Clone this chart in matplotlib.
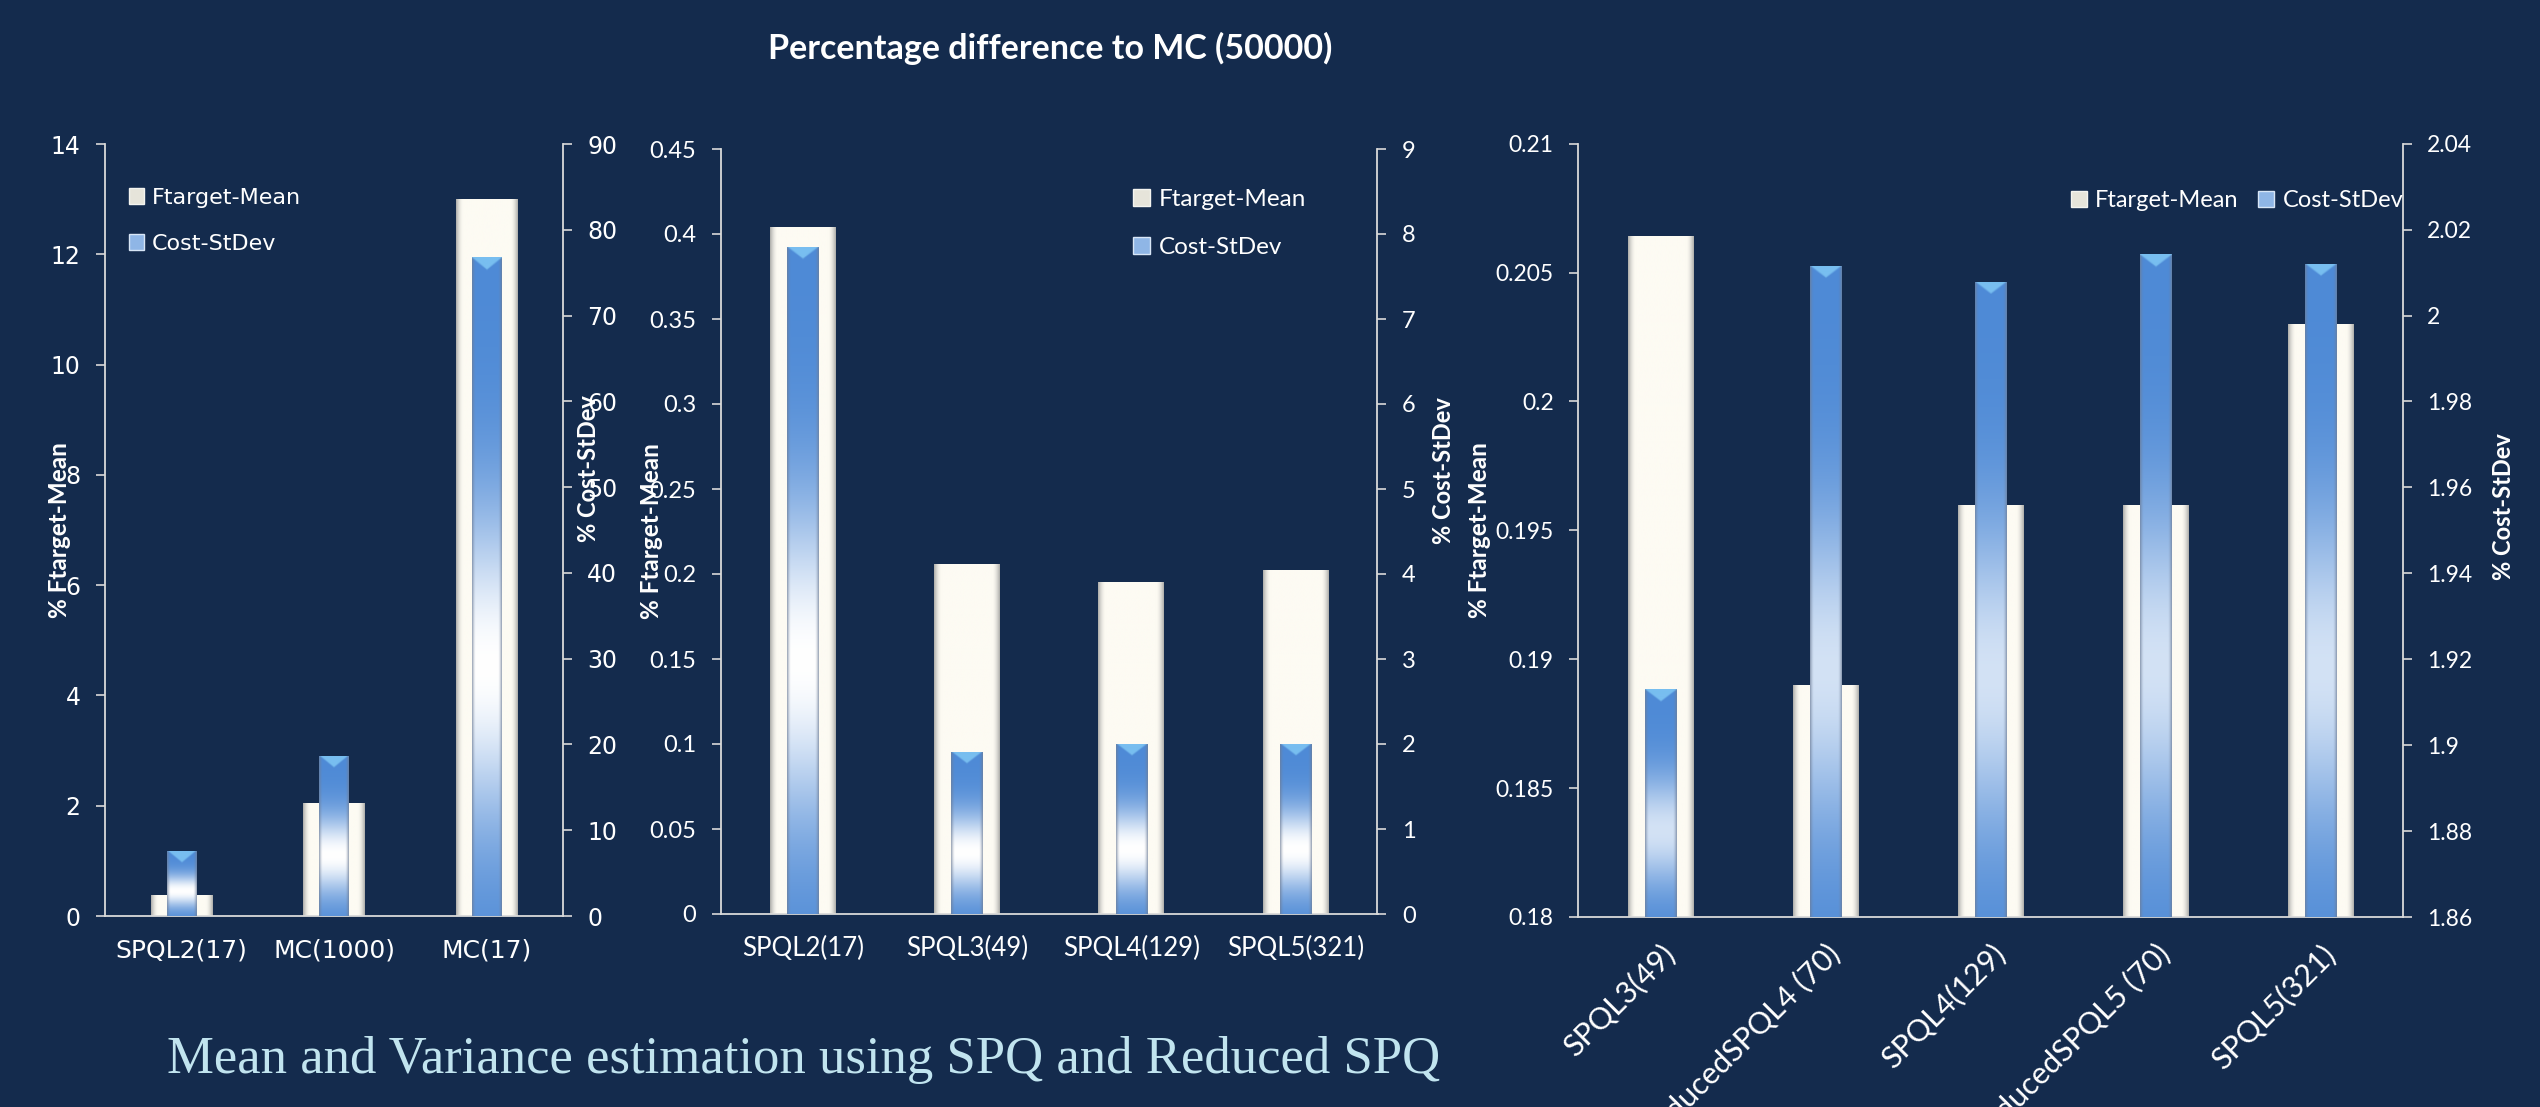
import numpy as np
import matplotlib
matplotlib.use("Agg")
import matplotlib.pyplot as plt
from matplotlib.patches import Patch

# ---------------- data ----------------
p1_categories = ["SPQL2(17)", "MC(1000)", "MC(17)"]
p1_mean = [0.38, 2.05, 13.0]
p1_std = [7.6, 18.7, 76.8]
p1_left_ticks = [0, 2, 4, 6, 8, 10, 12, 14]
p1_right_ticks = [0, 10, 20, 30, 40, 50, 60, 70, 80, 90]

p2_categories = ["SPQL2(17)", "SPQL3(49)", "SPQL4(129)", "SPQL5(321)"]
p2_mean = [0.404, 0.206, 0.1955, 0.2025]
p2_std = [7.85, 1.91, 2.0, 2.005]
p2_left_ticks = [0, 0.05, 0.1, 0.15, 0.2, 0.25, 0.3, 0.35, 0.4, 0.45]
p2_right_ticks = [0, 1, 2, 3, 4, 5, 6, 7, 8, 9]

p3_categories = ["SPQL3(49)", "ReducedSPQL4 (70)", "SPQL4(129)", "ReducedSPQL5 (70)", "SPQL5(321)"]
p3_mean = [0.2064, 0.189, 0.196, 0.196, 0.203]
p3_std = [1.913, 2.0116, 2.0079, 2.0143, 2.012]
p3_left_ticks = [0.18, 0.185, 0.19, 0.195, 0.2, 0.205, 0.21]
p3_right_ticks = [1.86, 1.88, 1.9, 1.92, 1.94, 1.96, 1.98, 2.0, 2.02, 2.04]

series_names = ["Ftarget-Mean", "Cost-StDev"]
left_label = "% Ftarget-Mean"
right_label = "% Cost-StDev"
title = "Percentage difference to MC (50000)"
subtitle = "Mean and Variance estimation using SPQ and Reduced SPQ"

# ---------------- style ----------------
BG = "#142b4d"
SPINE = "#d9d9d9"
CREAM = np.array([253, 251, 243]) / 255
GREY = np.array([175, 175, 172]) / 255
BLUE = np.array([78, 138, 214]) / 255
EDGEGREY = np.array([110, 125, 150]) / 255
CAP = np.array([120, 190, 240]) / 255
CAL = "Lato"

W, H = 2540, 1107
fig = plt.figure(figsize=(W / 100, H / 100), dpi=100, facecolor=BG)


def fmt(v):
    return f"{round(v, 6):g}"


def visible_range(ax, patch):
    lo, hi = ax.get_ylim()
    y0 = patch.get_y()
    y1 = y0 + patch.get_height()
    return max(y0, lo), min(y1, hi)


def shade_white(ax, patch):
    x0, w = patch.get_x(), patch.get_width()
    y0, y1 = visible_range(ax, patch)
    u = np.linspace(0, 1, 96)
    d = np.minimum(u, 1 - u)
    e = np.clip(1 - d / 0.12, 0, 1) ** 2.0
    row = CREAM[None, :] * (1 - e[:, None]) + GREY[None, :] * e[:, None]
    img = np.tile(row[None, :, :], (2, 1, 1))
    im = ax.imshow(img, extent=[x0, x0 + w, y0, y1], aspect="auto", origin="lower",
                   zorder=patch.get_zorder() + 0.1, interpolation="bilinear")
    im.set_clip_path(patch)


def shade_blue(ax, patch, amp, tc=0.38, s=0.24):
    x0, w = patch.get_x(), patch.get_width()
    y0, y1 = visible_range(ax, patch)
    pix = abs(ax.transData.transform((0, y1))[1] - ax.transData.transform((0, y0))[1])
    ny, nx = 600, 64
    t = np.linspace(0, 1, ny)
    wv = amp * np.exp(-((t - tc) / s) ** 2)
    col = BLUE[None, :] * (1 - wv[:, None]) + wv[:, None] * np.ones(3)[None, :]
    u = np.linspace(0, 1, nx)
    d = np.minimum(u, 1 - u)
    e = np.clip(1 - d / 0.12, 0, 1) ** 1.6 * 0.7
    img = col[:, None, :] * (1 - e[None, :, None]) + EDGEGREY[None, None, :] * e[None, :, None]
    # chevron bevel at the top
    depth = (1 - t)[:, None] * pix
    vshape = 12.0 * (1 - 2 * np.abs(u - 0.5))[None, :]
    cap = np.clip((vshape - depth) / 2.0 + 0.5, 0, 1) * (depth < 13)
    img = img * (1 - cap[:, :, None]) + CAP[None, None, :] * cap[:, :, None]
    im = ax.imshow(img, extent=[x0, x0 + w, y0, y1], aspect="auto", origin="lower",
                   zorder=patch.get_zorder() + 0.1, interpolation="bilinear")
    im.set_clip_path(patch)


def panel(rect, cats, mean, std, lticks, rticks, tickfont, yticksize, xticksize, amp,
          llab_x, rlab_xy, leg_kw, rotate=False):
    ax = fig.add_axes(rect)
    ax.set_facecolor("none")
    ax2 = ax.twinx()
    n = len(cats)
    x = np.arange(n)
    ax.set_xlim(-0.5, n - 0.5)
    ax.set_ylim(lticks[0], lticks[-1])
    ax2.set_ylim(rticks[0], rticks[-1])

    wb = ax.bar(x, mean, width=0.40, color=CREAM, zorder=2, linewidth=0)
    bb = ax2.bar(x, std, width=0.19, color=BLUE, zorder=2, linewidth=0)
    for p in wb:
        shade_white(ax, p)
    for p in bb:
        shade_blue(ax2, p, amp)
    ax.set_xlim(-0.5, n - 0.5)
    ax2.set_xlim(-0.5, n - 0.5)
    ax.set_ylim(lticks[0], lticks[-1])
    ax2.set_ylim(rticks[0], rticks[-1])

    for s in ["top", "right"]:
        ax.spines[s].set_visible(False)
    for s in ["top", "left", "bottom"]:
        ax2.spines[s].set_visible(False)
    for s in ["left", "bottom"]:
        ax.spines[s].set_color(SPINE)
        ax.spines[s].set_linewidth(1.3)
    ax2.spines["right"].set_color(SPINE)
    ax2.spines["right"].set_linewidth(1.3)

    ax.set_yticks(lticks, labels=[fmt(v) for v in lticks], family=tickfont)
    ax2.set_yticks(rticks, labels=[fmt(v) for v in rticks], family=tickfont)
    if rotate:
        ax.set_xticks(x, labels=cats, family=tickfont, rotation=45, ha="right",
                      va="top", rotation_mode="anchor")
        ax.tick_params(axis="x", length=0, pad=16, labelsize=xticksize, labelcolor="white")
    else:
        ax.set_xticks(x, labels=cats, family=tickfont)
        ax.tick_params(axis="x", length=0, pad=16, labelsize=xticksize, labelcolor="white")
    for a in (ax, ax2):
        a.tick_params(axis="y", direction="out", length=6.5, width=1.2, color=SPINE,
                      pad=11, labelsize=yticksize, labelcolor="white")

    ax.set_ylabel(left_label, color="white", fontweight="bold", fontsize=17.5,
                  family=CAL, va="center")
    ax.yaxis.set_label_coords(llab_x, 0.5)
    ax2.set_ylabel(right_label, color="white", fontweight="bold", fontsize=17,
                   family=CAL, va="center", rotation=90)
    ax2.yaxis.set_label_coords(*rlab_xy)

    handles = [Patch(facecolor="#e6e4da", edgecolor="#f4f4f0", linewidth=1.0),
               Patch(facecolor="#8fb6e6", edgecolor="#d8e6f6", linewidth=1.0)]
    leg = ax2.legend(handles, series_names, frameon=False, borderpad=0, borderaxespad=0,
                     handlelength=0.7, handleheight=0.7, handletextpad=0.35,
                     labelcolor="white", **leg_kw)
    leg.set_zorder(10)
    return ax, ax2


# panel 1
panel([105 / W, 1 - 916 / H, 458 / W, 772 / H], p1_categories, p1_mean, p1_std,
      p1_left_ticks, p1_right_ticks, "DejaVu Sans", 17, 18, 1.0,
      -0.100, (1.055, 0.579),
      dict(loc="upper left", bbox_to_anchor=(0.052, 0.943), labelspacing=1.15,
           prop={"family": "DejaVu Sans", "size": 16}))

# panel 2
panel([720.7 / W, 1 - 914 / H, 656.8 / W, 765 / H], p2_categories, p2_mean, p2_std,
      p2_left_ticks, p2_right_ticks, CAL, 17, 18.5, 1.0,
      -0.106, (1.101, 0.580),
      dict(loc="upper left", bbox_to_anchor=(0.628, 0.948), labelspacing=1.1,
           prop={"family": CAL, "size": 17.5}))

# panel 3
panel([1578 / W, 1 - 917 / H, 825 / W, 773.3 / H], p3_categories, p3_mean, p3_std,
      p3_left_ticks, p3_right_ticks, CAL, 16.5, 22, 0.75,
      -0.119, (1.1224, 0.531),
      dict(loc="upper left", bbox_to_anchor=(0.597, 0.940), ncol=2, columnspacing=0.8,
           prop={"family": CAL, "size": 17}),
      rotate=True)

fig.text(1050 / W, 1 - 48 / H, title, ha="center", va="center", color="white",
         fontweight="bold", fontsize=24.5, family=CAL)
fig.text(167 / W, 1 - 1073 / H, subtitle, ha="left", va="baseline", color="#c1e4ef",
         fontsize=38, family="Liberation Serif")

fig.savefig("out.png", dpi=100, facecolor=BG)
